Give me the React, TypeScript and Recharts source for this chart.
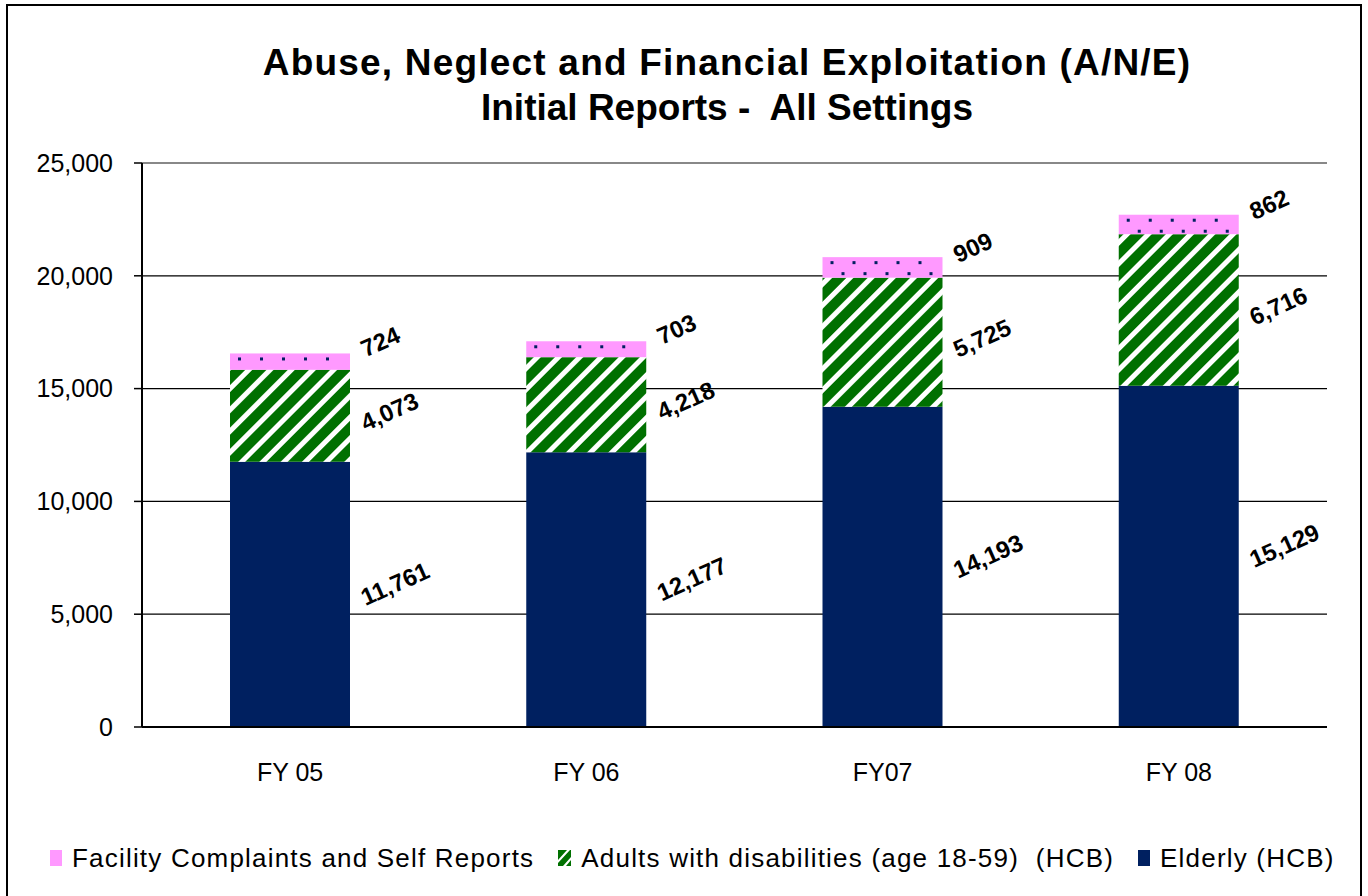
import React from 'react';
import { BarChart, Bar, XAxis, YAxis, CartesianGrid, LabelList, ReferenceLine } from 'recharts';

const categories = ['FY 05', 'FY 06', 'FY07', 'FY 08'];
const elderly = [11761, 12177, 14193, 15129];
const adults = [4073, 4218, 5725, 6716];
const facility = [724, 703, 909, 862];
const yTicks = [0, 5000, 10000, 15000, 20000, 25000];
const edgeTicks = [0, 1, 2, 3, 4];

const titleLines = ['Abuse, Neglect and Financial Exploitation (A/N/E)', 'Initial Reports -  All Settings'];
const seriesNames = {
  facility: 'Facility Complaints and Self Reports',
  adults: 'Adults with disabilities (age 18-59)  (HCB)',
  elderly: 'Elderly (HCB)',
};

const NAVY = '#002060';
const GREEN = '#007000';
const PINK = '#ff99ff';
const FONT = '"Liberation Sans", Arial, sans-serif';

const data = categories.map((name, i) => ({
  name,
  elderly: elderly[i],
  adults: adults[i],
  facility: facility[i],
}));

const fmt = (v: number) => Number(v).toLocaleString('en-US');

const makeLabel = (dy: number) => (props: any) => {
  const { x, y, width, height, value } = props;
  const ax = Number(x) + Number(width) + 12;
  const ay = Number(y) + Number(height) / 2 + dy;
  return (
    <text
      x={ax}
      y={ay}
      transform={`rotate(-24 ${ax} ${ay})`}
      textAnchor="start"
      dominantBaseline="central"
      fontFamily={FONT}
      fontWeight="bold"
      fontSize={24}
      fill="#000"
    >
      {fmt(value)}
    </text>
  );
};

// Pink bar with a staggered grid of small navy dots
const DottedBar = (props: any) => {
  const { x, y, width, height } = props;
  if (!(height > 0)) return null;
  const dots: React.ReactNode[] = [];
  const rows = [{ dy: 4, dx: 8 }, { dy: 15, dx: 19 }];
  rows.forEach((r, ri) => {
    if (r.dy + 3 > height) return;
    for (let dx = r.dx; dx + 3 <= width; dx += 22) {
      dots.push(<rect key={`${ri}-${dx}`} x={x + dx} y={y + r.dy} width={3} height={3} fill={NAVY} />);
    }
  });
  return (
    <g>
      <rect x={x} y={y} width={width} height={height} fill={PINK} />
      {dots}
    </g>
  );
};

const Swatch = ({ kind }: { kind: string }) => {
  if (kind === 'adults') {
    return (
      <svg width={13} height={16} style={{ display: 'block' }}>
        <rect width={13} height={16} fill={GREEN} />
        <path d="M0 10 L9 0 L12 0 L0 13 Z M5 16 L13 7 L13 10 L8 16 Z" fill="#fff" />
      </svg>
    );
  }
  return <div style={{ width: 12, height: 16, background: kind === 'facility' ? PINK : NAVY }} />;
};

export default function App() {
  return (
    <div style={{ position: 'absolute', left: 0, top: 0, width: 1368, height: 896, background: '#fff', overflow: 'hidden', fontFamily: FONT }}>
      <div style={{ position: 'absolute', left: 6, top: 4, width: 1356, height: 910, border: '2px solid #000', boxSizing: 'border-box' }} />
      {titleLines.map((t, i) => (
        <div
          key={i}
          style={{
            position: 'absolute', left: 0, width: 1454, top: 40 + i * 45, height: 45, lineHeight: '45px',
            textAlign: 'center', fontSize: 37, fontWeight: 'bold', color: '#000', whiteSpace: 'pre',
            letterSpacing: i === 0 ? 1.2 : 0,
          }}
        >
          {t}
        </div>
      ))}
      <div style={{ position: 'absolute', left: 0, top: 0 }}>
        <BarChart width={1368} height={896} data={data} margin={{ top: 163, right: 41, bottom: 0, left: 0 }} barCategoryGap={0}>
          <defs>
            <pattern id="stripes" patternUnits="userSpaceOnUse" width={15} height={15} patternTransform="rotate(45)">
              <rect width={15} height={15} fill={GREEN} />
              <rect x={0} y={0} width={5} height={15} fill="#fff" />
            </pattern>
          </defs>
          <CartesianGrid horizontal vertical={false} stroke="#000" strokeWidth={1.2} />
          <XAxis
            xAxisId="edges"
            type="number"
            domain={[0, 4]}
            ticks={edgeTicks}
            allowDataOverflow
            tick={false}
            tickLine={{ stroke: '#000', strokeWidth: 1.5 }}
            tickSize={8}
            axisLine={false}
            height={0}
          />
          <XAxis
            xAxisId="cat"
            dataKey="name"
            tickLine={false}
            tickSize={0}
            tickMargin={36}
            height={169}
            axisLine={{ stroke: '#000', strokeWidth: 2 }}
            tick={{ fill: '#000', fontSize: 25, fontFamily: FONT }}
            interval={0}
          />
          <YAxis
            width={142}
            domain={[0, 25000]}
            ticks={yTicks}
            tickFormatter={fmt}
            tickSize={8}
            tickMargin={21}
            tickLine={{ stroke: '#000', strokeWidth: 1.5 }}
            axisLine={{ stroke: '#000', strokeWidth: 2 }}
            tick={{ fill: '#000', fontSize: 25, fontFamily: FONT }}
          />
          <ReferenceLine y={25000} xAxisId="cat" stroke="#888" strokeWidth={2} />
          <ReferenceLine x={4} xAxisId="edges" stroke="#888" strokeWidth={2} />
          <Bar xAxisId="cat" dataKey="elderly" stackId="s" fill={NAVY} barSize={120} isAnimationActive={false}>
            <LabelList dataKey="elderly" content={makeLabel(4)} />
          </Bar>
          <Bar xAxisId="cat" dataKey="adults" stackId="s" fill="url(#stripes)" barSize={120} isAnimationActive={false}>
            <LabelList dataKey="adults" content={makeLabel(8)} />
          </Bar>
          <Bar xAxisId="cat" dataKey="facility" stackId="s" fill={PINK} shape={DottedBar} barSize={120} isAnimationActive={false}>
            <LabelList dataKey="facility" content={makeLabel(-12)} />
          </Bar>
        </BarChart>
      </div>
      <div style={{ position: 'absolute', left: 50, top: 843, height: 30, display: 'flex', alignItems: 'center', fontSize: 26, letterSpacing: 1.2, color: '#000', whiteSpace: 'pre' }}>
        {(['facility', 'adults', 'elderly'] as const).map((k, i) => (
          <div key={k} style={{ display: 'flex', alignItems: 'center', marginRight: i < 2 ? 24 : 0 }}>
            <Swatch kind={k} />
            <span style={{ marginLeft: 10 }}>{seriesNames[k]}</span>
          </div>
        ))}
      </div>
    </div>
  );
}
